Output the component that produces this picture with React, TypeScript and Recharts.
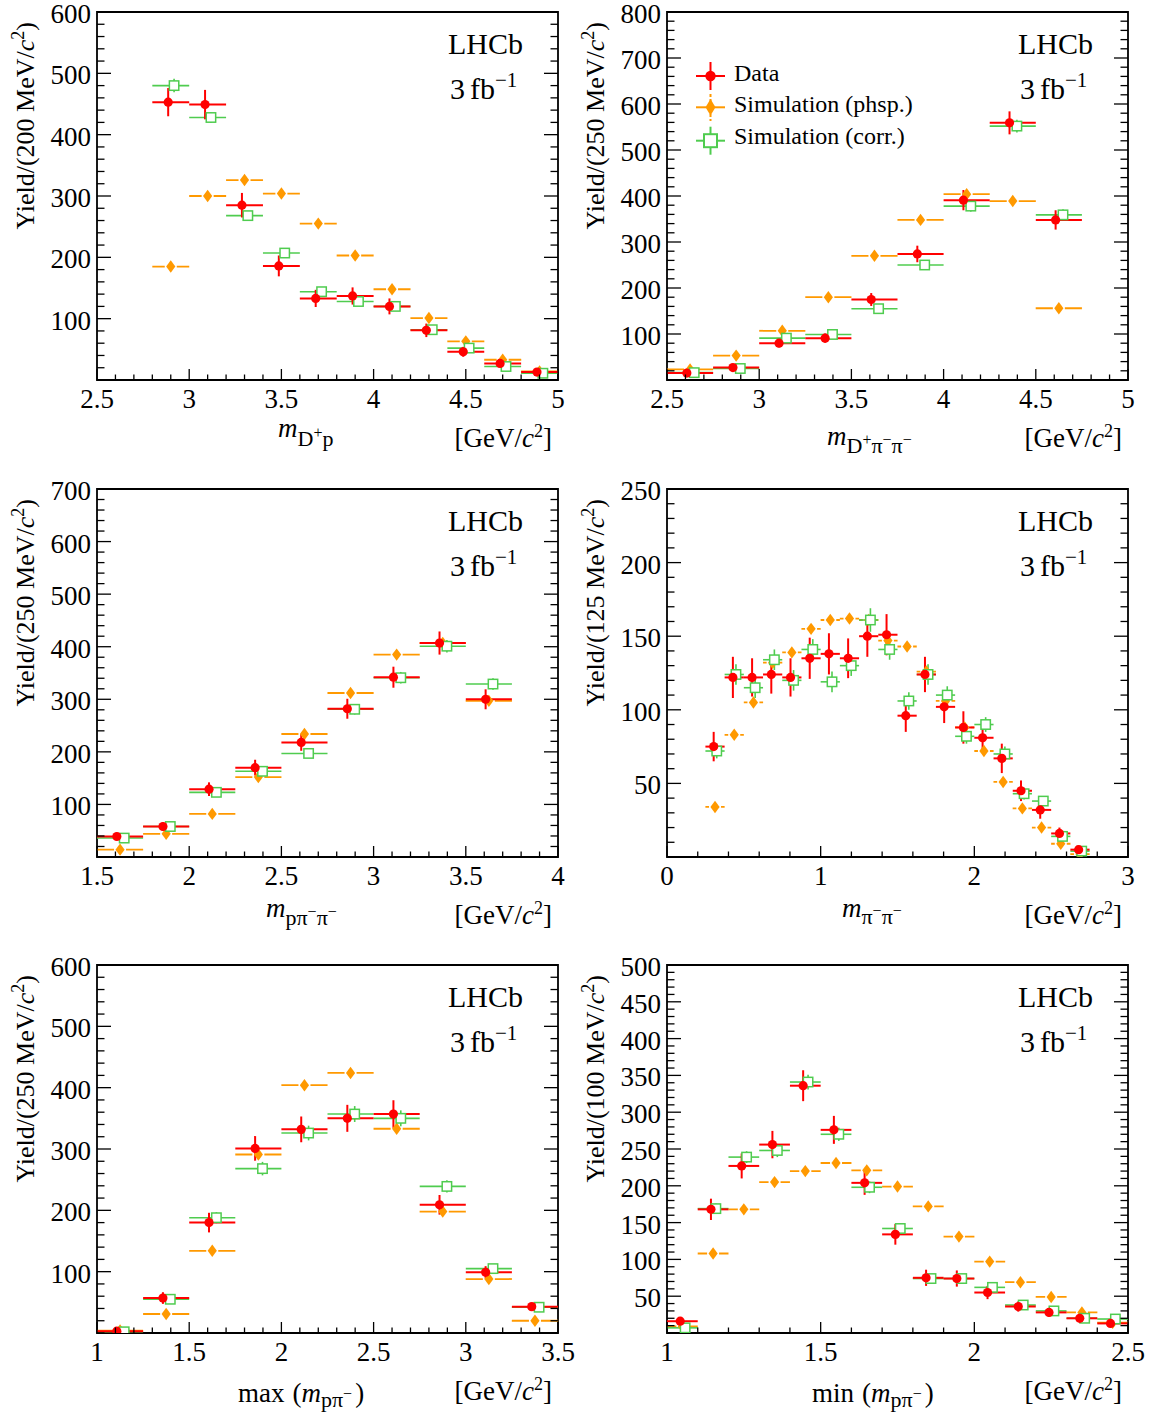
import React from 'react';
import { ComposedChart, Scatter, XAxis, YAxis, ErrorBar, ReferenceArea, Legend } from 'recharts';

const FONT = '"Liberation Serif", "DejaVu Serif", serif';
const RED = '#ff0000';
const ORANGE = '#ff9900';
const GREEN = '#4fcc4f';

// ---------------- Panel 1 : m(D+ p)
const p1Centers = [2.9, 3.1, 3.3, 3.5, 3.7, 3.9, 4.1, 4.3, 4.5, 4.7, 4.9];
const p1BinWidth = 0.2;
const p1Data = [453, 449, 285, 186, 133, 137, 120, 81, 46, 27, 13];
const p1DataErr = [23, 24, 20, 17, 14, 14, 13, 11, 8, 6, 4];
const p1Phsp = [185, 300, 326, 304, 255, 203, 148, 101, 63, 33, 14];
const p1Corr = [480, 428, 268, 207, 144, 128, 120, 82, 52, 22, 11];
const p1CorrErr = [11, 9, 7, 6, 5, 4, 4, 3, 3, 2, 1];
const p1XTicks = [2.5, 3, 3.5, 4, 4.5, 5];
const p1YTicks = [100, 200, 300, 400, 500, 600];

// ---------------- Panel 2 : m(D+ pi- pi-)
const p2Centers = [2.625, 2.875, 3.125, 3.375, 3.625, 3.875, 4.125, 4.375, 4.625];
const p2BinWidth = 0.25;
const p2Data = [15, 27, 80, 91, 175, 274, 391, 559, 348];
const p2DataErr = [4, 6, 9, 10, 14, 18, 22, 25, 21];
const p2Phsp = [23, 53, 107, 180, 270, 348, 404, 389, 156];
const p2Corr = [16, 25, 91, 99, 155, 250, 378, 552, 359];
const p2CorrErr = [3, 4, 6, 7, 8, 10, 12, 14, 12];
const p2XTicks = [2.5, 3, 3.5, 4, 4.5, 5];
const p2YTicks = [100, 200, 300, 400, 500, 600, 700, 800];

// ---------------- Panel 3 : m(p pi- pi-)
const p3Centers = [1.625, 1.875, 2.125, 2.375, 2.625, 2.875, 3.125, 3.375, 3.625];
const p3BinWidth = 0.25;
const p3Data = [39, 58, 129, 170, 218, 282, 342, 407, 300];
const p3DataErr = [7, 8, 13, 15, 16, 19, 20, 22, 19];
const p3Phsp = [14, 44, 82, 152, 234, 312, 385, 407, 297];
const p3Corr = [36, 58, 123, 163, 197, 281, 341, 401, 329];
const p3CorrErr = [3, 4, 6, 7, 8, 10, 11, 12, 11];
const p3XTicks = [1.5, 2, 2.5, 3, 3.5, 4];
const p3YTicks = [100, 200, 300, 400, 500, 600, 700];

// ---------------- Panel 4 : m(pi- pi-)
const p4Centers = [0.3125, 0.4375, 0.5625, 0.6875, 0.8125, 0.9375, 1.0625, 1.1875, 1.3125, 1.4375,
  1.5625, 1.6875, 1.8125, 1.9375, 2.0625, 2.1875, 2.3125, 2.4375, 2.5625, 2.6875];
const p4BinWidth = 0.125;
const p4Data = [75, 122, 122, 124, 122, 135, 138, 135, 150, 151, 96, 124, 102, 88, 81, 67, 45, 32, 16, 5];
const p4DataErr = [10, 14, 13, 13, 13, 14, 14, 13.5, 14, 14, 11, 12, 11, 11, 10, 10, 7, 6, 4, 2.5];
const p4Phsp = [34, 83, 105, 132, 139, 155, 161, 162, 161, 147, 143, 126, 106, 88, 72, 51, 33, 20, 9, 2];
const p4Corr = [72, 124, 115, 134, 120, 141, 119, 130, 161, 141, 106, 124, 110, 82, 90, 70, 43, 38, 14, 4];
const p4CorrErr = [5, 7, 7, 7, 7, 7, 7, 7, 8, 7, 6, 7, 6, 5, 5, 5, 4, 3, 2, 1];
const p4XTicks = [0, 1, 2, 3];
const p4YTicks = [50, 100, 150, 200, 250];

// ---------------- Panel 5 : max m(p pi-)
const p5Centers = [1.125, 1.375, 1.625, 1.875, 2.125, 2.375, 2.625, 2.875, 3.125, 3.375];
const p5BinWidth = 0.25;
const p5Data = [3, 57, 180, 301, 332, 350, 357, 209, 99, 43];
const p5DataErr = [2, 9.5, 16, 20, 21, 22, 22.5, 16, 10, 6];
const p5Phsp = [4, 31, 134, 291, 404, 424, 333, 198, 88, 20];
const p5Corr = [2, 55, 188, 268, 326, 357, 350, 239, 105, 42];
const p5CorrErr = [1, 5, 9, 11, 12, 13, 13, 10, 7, 4];
const p5XTicks = [1, 1.5, 2, 2.5, 3, 3.5];
const p5YTicks = [100, 200, 300, 400, 500, 600];

// ---------------- Panel 6 : min m(p pi-)
const p6Centers = [1.05, 1.15, 1.25, 1.35, 1.45, 1.55, 1.65, 1.75, 1.85, 1.95, 2.05, 2.15, 2.25, 2.35, 2.45];
const p6BinWidth = 0.1;
const p6Data = [16, 168, 227, 256, 336, 276, 204, 134, 75, 74, 55, 36, 28, 20, 13];
const p6DataErr = [4, 14.5, 17, 18.6, 21, 19, 16.3, 14, 11, 11, 9, 7, 6, 5, 4];
const p6Phsp = [9, 108, 168, 205, 220, 231, 221, 199, 172, 131, 97, 69, 49, 28, 14];
const p6Corr = [7, 169, 239, 248, 341, 270, 198, 142, 74, 74, 62, 38, 30, 20, 19];
const p6CorrErr = [2, 7, 8, 9, 10, 9, 8, 7, 5, 5, 4, 3, 3, 3, 2];
const p6XTicks = [1, 1.5, 2, 2.5];
const p6YTicks = [50, 100, 150, 200, 250, 300, 350, 400, 450, 500];

// ---------------- layout constants
const PLOT_W = 461;
const PLOT_H = 368;
const AX_L = 97;
const AX_R = 20;
const AX_B = 90;
const TOP = 12;
const CH_W = AX_L + PLOT_W + AX_R;
const CH_H = TOP + PLOT_H + AX_B;
const DATA_SHIFT = -0.07;
const CORR_SHIFT = 0.09;

type Row = { x: number; y: number; ex: [number, number]; ey: number };

function buildRows(centers: number[], bw: number, vals: number[], errs: number[] | null, shift: number): Row[] {
  return centers.map((c, i) => {
    const x = c + shift * bw;
    return { x, y: vals[i], ex: [x - (c - bw / 2), c + bw / 2 - x], ey: errs ? errs[i] : 0 };
  });
}

function tickRange(a: number, b: number, step: number): number[] {
  const out: number[] = [];
  const n = Math.round((b - a) / step);
  for (let i = 0; i <= n; i++) out.push(Math.round((a + i * step) * 1e6) / 1e6);
  return out;
}

const isMajor = (v: number, majors: number[]) => majors.some((m) => Math.abs(m - v) < 1e-6);
const fmt = (v: number) => String(Math.round(v * 1000) / 1000);

function makeBottomTick(majors: number[]) {
  return (props: any) => {
    const { x, y, payload } = props;
    const maj = isMajor(payload.value, majors);
    return (
      <g>
        <line x1={x} x2={x} y1={y} y2={y - (maj ? 11 : 5.5)} stroke="#000" strokeWidth={1.3} />
        {maj && (
          <text x={x} y={y + 28} textAnchor="middle" fontSize={27} fontFamily={FONT} fill="#000">
            {fmt(payload.value)}
          </text>
        )}
      </g>
    );
  };
}

function makeLeftTick(majors: number[]) {
  return (props: any) => {
    const { x, y, payload } = props;
    const maj = isMajor(payload.value, majors);
    return (
      <g>
        <line x1={x} x2={x + (maj ? 14 : 7.5)} y1={y} y2={y} stroke="#000" strokeWidth={1.3} />
        {maj && (
          <text x={x - 6} y={y + 11} textAnchor="end" fontSize={27} fontFamily={FONT} fill="#000">
            {fmt(payload.value)}
          </text>
        )}
      </g>
    );
  };
}

function makeRightTick(majors: number[]) {
  return (props: any) => {
    const { x, y, payload } = props;
    const maj = isMajor(payload.value, majors);
    return <line x1={x} x2={x - (maj ? 14 : 7.5)} y1={y} y2={y} stroke="#000" strokeWidth={1.3} />;
  };
}

const RedDot = (p: any) => <circle cx={p.cx} cy={p.cy} r={4.6} fill={RED} />;
const OrangeDiamond = (p: any) => (
  <path d={`M${p.cx},${p.cy - 6.2} L${p.cx + 4.6},${p.cy} L${p.cx},${p.cy + 6.2} L${p.cx - 4.6},${p.cy} Z`} fill={ORANGE} />
);
const GreenSquare = (p: any) => (
  <rect x={p.cx - 4.7} y={p.cy - 4.7} width={9.4} height={9.4} fill="#fff" stroke={GREEN} strokeWidth={1.5} />
);

function LegendBox() {
  return (
    <svg width={270} height={110} style={{ overflow: 'visible', display: 'block' }}>
      <line x1={6} x2={35} y1={26} y2={26} stroke={RED} strokeWidth={2} />
      <line x1={20.5} x2={20.5} y1={12} y2={40} stroke={RED} strokeWidth={2} />
      <circle cx={20.5} cy={26} r={5.2} fill={RED} />
      <text x={44} y={31} fontSize={24} fontFamily={FONT} fill="#000">Data</text>

      <line x1={6} x2={16.5} y1={57.3} y2={57.3} stroke={ORANGE} strokeWidth={2} />
      <line x1={24.5} x2={35} y1={57.3} y2={57.3} stroke={ORANGE} strokeWidth={2} />
      <line x1={20.5} x2={20.5} y1={44} y2={71} stroke={ORANGE} strokeWidth={2} strokeDasharray="3 2" />
      <path d="M20.5,49 L25.5,57.3 L20.5,65.6 L15.5,57.3 Z" fill={ORANGE} />
      <text x={44} y={61.5} fontSize={24} fontFamily={FONT} fill="#000">Simulation (phsp.)</text>

      <line x1={6} x2={35} y1={90.7} y2={90.7} stroke={GREEN} strokeWidth={2} />
      <line x1={20.5} x2={20.5} y1={76.7} y2={104.7} stroke={GREEN} strokeWidth={2} />
      <rect x={14} y={84.2} width={13} height={13} fill="#fff" stroke={GREEN} strokeWidth={2} />
      <text x={44} y={93.5} fontSize={24} fontFamily={FONT} fill="#000">Simulation (corr.)</text>
    </svg>
  );
}

type Spec = {
  key: string;
  plotLeft: number;
  plotTop: number;
  xDomain: [number, number];
  xMajor: number[];
  xMinor: number;
  yDomain: [number, number];
  yMajor: number[];
  yMinor: number;
  centers: number[];
  bw: number;
  data: number[];
  dataErr: number[];
  phsp: number[];
  corr: number[];
  corrErr: number[];
  yBin: string;
  xTitle: React.ReactNode;
  legend?: boolean;
};

const SUB = 22;
const SUP = 16;

const Units = () => (
  <text x={552} y={447} textAnchor="end" fontSize={27} fontFamily={FONT} fill="#000">
    [GeV/<tspan fontStyle="italic">c</tspan>
    <tspan dy={-10} fontSize={18}>2</tspan>
    <tspan dy={10}>]</tspan>
  </text>
);

const t1 = (
  <text x={278} y={437} fontSize={27} fontFamily={FONT} fill="#000">
    <tspan fontStyle="italic">m</tspan>
    <tspan dy={9} fontSize={SUB}>D</tspan>
    <tspan dy={-8} fontSize={SUP}>+</tspan>
    <tspan dy={8} fontSize={SUB}>p</tspan>
  </text>
);
const t2 = (
  <text x={257} y={445} fontSize={27} fontFamily={FONT} fill="#000">
    <tspan fontStyle="italic">m</tspan>
    <tspan dy={8} fontSize={SUB}>D</tspan>
    <tspan dy={-8} fontSize={SUP}>+</tspan>
    <tspan dy={8} fontSize={SUB}>π</tspan>
    <tspan dy={-8} fontSize={SUP}>−</tspan>
    <tspan dy={8} fontSize={SUB}>π</tspan>
    <tspan dy={-8} fontSize={SUP}>−</tspan>
  </text>
);
const t3 = (
  <text x={266} y={440} fontSize={27} fontFamily={FONT} fill="#000">
    <tspan fontStyle="italic">m</tspan>
    <tspan dy={8} fontSize={SUB}>pπ</tspan>
    <tspan dy={-8} fontSize={SUP}>−</tspan>
    <tspan dy={8} fontSize={SUB}>π</tspan>
    <tspan dy={-8} fontSize={SUP}>−</tspan>
  </text>
);
const t4 = (
  <text x={272} y={440} fontSize={27} fontFamily={FONT} fill="#000">
    <tspan fontStyle="italic">m</tspan>
    <tspan dy={7} fontSize={SUB}>π</tspan>
    <tspan dy={-8} fontSize={SUP}>−</tspan>
    <tspan dy={8} fontSize={SUB}>π</tspan>
    <tspan dy={-8} fontSize={SUP}>−</tspan>
  </text>
);
const t5 = (
  <text x={238} y={449} fontSize={27} fontFamily={FONT} fill="#000">
    max<tspan dx={8}>(</tspan>
    <tspan fontStyle="italic">m</tspan>
    <tspan dy={5} fontSize={SUB}>pπ</tspan>
    <tspan dy={-8} fontSize={SUP}>−</tspan>
    <tspan dy={3} dx={3}>)</tspan>
  </text>
);
const t6 = (
  <text x={242} y={449} fontSize={27} fontFamily={FONT} fill="#000">
    min<tspan dx={8}>(</tspan>
    <tspan fontStyle="italic">m</tspan>
    <tspan dy={5} fontSize={SUB}>pπ</tspan>
    <tspan dy={-8} fontSize={SUP}>−</tspan>
    <tspan dy={3} dx={3}>)</tspan>
  </text>
);

const specs: Spec[] = [
  { key: 'p1', plotLeft: 97, plotTop: 12, xDomain: [2.5, 5], xMajor: p1XTicks, xMinor: 0.1, yDomain: [0, 600], yMajor: p1YTicks, yMinor: 20,
    centers: p1Centers, bw: p1BinWidth, data: p1Data, dataErr: p1DataErr, phsp: p1Phsp, corr: p1Corr, corrErr: p1CorrErr, yBin: '200', xTitle: t1 },
  { key: 'p2', plotLeft: 667, plotTop: 12, xDomain: [2.5, 5], xMajor: p2XTicks, xMinor: 0.1, yDomain: [0, 800], yMajor: p2YTicks, yMinor: 20,
    centers: p2Centers, bw: p2BinWidth, data: p2Data, dataErr: p2DataErr, phsp: p2Phsp, corr: p2Corr, corrErr: p2CorrErr, yBin: '250', xTitle: t2, legend: true },
  { key: 'p3', plotLeft: 97, plotTop: 489, xDomain: [1.5, 4], xMajor: p3XTicks, xMinor: 0.1, yDomain: [0, 700], yMajor: p3YTicks, yMinor: 20,
    centers: p3Centers, bw: p3BinWidth, data: p3Data, dataErr: p3DataErr, phsp: p3Phsp, corr: p3Corr, corrErr: p3CorrErr, yBin: '250', xTitle: t3 },
  { key: 'p4', plotLeft: 667, plotTop: 489, xDomain: [0, 3], xMajor: p4XTicks, xMinor: 0.2, yDomain: [0, 250], yMajor: p4YTicks, yMinor: 10,
    centers: p4Centers, bw: p4BinWidth, data: p4Data, dataErr: p4DataErr, phsp: p4Phsp, corr: p4Corr, corrErr: p4CorrErr, yBin: '125', xTitle: t4 },
  { key: 'p5', plotLeft: 97, plotTop: 965, xDomain: [1, 3.5], xMajor: p5XTicks, xMinor: 0.1, yDomain: [0, 600], yMajor: p5YTicks, yMinor: 20,
    centers: p5Centers, bw: p5BinWidth, data: p5Data, dataErr: p5DataErr, phsp: p5Phsp, corr: p5Corr, corrErr: p5CorrErr, yBin: '250', xTitle: t5 },
  { key: 'p6', plotLeft: 667, plotTop: 965, xDomain: [1, 2.5], xMajor: p6XTicks, xMinor: 0.1, yDomain: [0, 500], yMajor: p6YTicks, yMinor: 10,
    centers: p6Centers, bw: p6BinWidth, data: p6Data, dataErr: p6DataErr, phsp: p6Phsp, corr: p6Corr, corrErr: p6CorrErr, yBin: '100', xTitle: t6 },
];

function Panel({ s }: { s: Spec }) {
  const dataRows = buildRows(s.centers, s.bw, s.data, s.dataErr, DATA_SHIFT);
  const phspRows = buildRows(s.centers, s.bw, s.phsp, null, 0);
  const corrRows = buildRows(s.centers, s.bw, s.corr, s.corrErr, CORR_SHIFT);
  const xAll = tickRange(s.xDomain[0], s.xDomain[1], s.xMinor);
  const yAll = tickRange(s.yDomain[0], s.yDomain[1], s.yMinor);
  const half = (s.bw / 2) * (PLOT_W / (s.xDomain[1] - s.xDomain[0]));
  const dash = `${Math.max(half - 6, 2)} 12`;
  return (
    <div style={{ position: 'absolute', left: s.plotLeft - AX_L, top: s.plotTop - TOP, width: CH_W, height: CH_H }}>
      <ComposedChart width={CH_W} height={CH_H} margin={{ top: TOP, right: 0, bottom: 0, left: 0 }}>
        <XAxis xAxisId="b" type="number" dataKey="x" domain={s.xDomain} allowDataOverflow ticks={xAll} interval={0}
          tickLine={false} axisLine={false} tickSize={0} tickMargin={0} height={AX_B} tick={makeBottomTick(s.xMajor)} />
        <YAxis yAxisId="l" type="number" dataKey="y" domain={s.yDomain} allowDataOverflow ticks={yAll} interval={0}
          tickLine={false} axisLine={false} tickSize={0} tickMargin={0} width={AX_L} tick={makeLeftTick(s.yMajor)} />
        <YAxis yAxisId="r" orientation="right" type="number" domain={s.yDomain} allowDataOverflow ticks={yAll} interval={0}
          tickLine={false} axisLine={false} tickSize={0} tickMargin={0} width={AX_R} tick={makeRightTick(s.yMajor)} />
        <ReferenceArea xAxisId="b" yAxisId="l" x1={s.xDomain[0]} x2={s.xDomain[1]} y1={s.yDomain[0]} y2={s.yDomain[1]}
          fill="none" fillOpacity={0} stroke="#000" strokeWidth={1.8} />
        <Scatter name="Simulation (phsp.)" xAxisId="b" yAxisId="l" data={phspRows} isAnimationActive={false} shape={OrangeDiamond}>
          <ErrorBar dataKey="ex" direction="x" width={0} stroke={ORANGE} strokeWidth={1.8} strokeDasharray={dash} isAnimationActive={false} />
        </Scatter>
        <Scatter name="Simulation (corr.)" xAxisId="b" yAxisId="l" data={corrRows} isAnimationActive={false} shape={GreenSquare}>
          <ErrorBar dataKey="ex" direction="x" width={0} stroke={GREEN} strokeWidth={1.6} isAnimationActive={false} />
          <ErrorBar dataKey="ey" direction="y" width={0} stroke={GREEN} strokeWidth={1.6} isAnimationActive={false} />
        </Scatter>
        <Scatter name="Data" xAxisId="b" yAxisId="l" data={dataRows} isAnimationActive={false} shape={RedDot}>
          <ErrorBar dataKey="ex" direction="x" width={0} stroke={RED} strokeWidth={2} isAnimationActive={false} />
          <ErrorBar dataKey="ey" direction="y" width={0} stroke={RED} strokeWidth={2} isAnimationActive={false} />
        </Scatter>
        {s.legend && (
          <Legend content={() => <LegendBox />} layout="horizontal" verticalAlign="middle" align="center"
            wrapperStyle={{ left: 120, top: 50, width: 270, height: 110 }} />
        )}
      </ComposedChart>
      <svg width={CH_W} height={CH_H} style={{ position: 'absolute', left: 0, top: 0, pointerEvents: 'none', overflow: 'visible' }}>
        <text transform="rotate(-90 34 22)" x={34} y={22} textAnchor="end" fontSize={26} fontFamily={FONT} fill="#000">
          {`Yield/(${s.yBin} MeV/`}
          <tspan fontStyle="italic">c</tspan>
          <tspan dy={-10} fontSize={18}>2</tspan>
          <tspan dy={10}>)</tspan>
        </text>
        {s.xTitle}
        <Units />
        <text x={448} y={53.5} fontSize={30} fontFamily={FONT} fill="#000">LHCb</text>
        <text x={450} y={98.5} fontSize={30} fontFamily={FONT} fill="#000">
          3<tspan dx={5}>fb</tspan>
          <tspan dy={-12} fontSize={21}>−1</tspan>
        </text>
      </svg>
    </div>
  );
}

export default function App() {
  return (
    <div style={{ position: 'absolute', left: 0, top: 0, width: 1155, height: 1416, background: '#fff', fontFamily: FONT }}>
      {specs.map((s) => (
        <Panel key={s.key} s={s} />
      ))}
    </div>
  );
}
